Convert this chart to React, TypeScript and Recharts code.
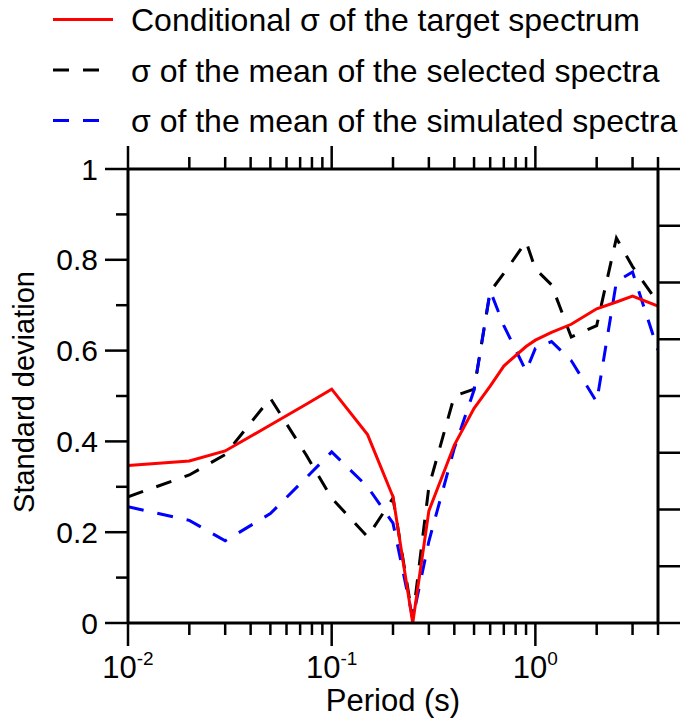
import React from 'react';
import { LineChart, Line, XAxis, YAxis, Legend } from 'recharts';

const PERIODS = [0.01, 0.02, 0.03, 0.05, 0.075, 0.1, 0.15, 0.2, 0.25, 0.3, 0.4, 0.5, 0.6, 0.7, 0.9, 1, 1.2, 1.5, 2, 2.5, 3, 4];
const CONDITIONAL_SIGMA = [0.347, 0.357, 0.379, 0.436, 0.482, 0.515, 0.415, 0.278, 0.0, 0.247, 0.392, 0.473, 0.522, 0.566, 0.609, 0.623, 0.64, 0.658, 0.692, 0.707, 0.72, 0.698];
const SELECTED_SIGMA = [0.278, 0.326, 0.371, 0.495, 0.37, 0.275, 0.19, 0.275, 0.01, 0.3, 0.5, 0.515, 0.73, 0.77, 0.84, 0.78, 0.745, 0.63, 0.655, 0.848, 0.785, 0.705];
const SIMULATED_SIGMA = [0.256, 0.226, 0.181, 0.241, 0.32, 0.377, 0.3, 0.22, 0.01, 0.18, 0.385, 0.513, 0.732, 0.655, 0.555, 0.605, 0.62, 0.578, 0.487, 0.752, 0.773, 0.601];

const X_TICKS = [0.01, 0.02, 0.03, 0.04, 0.05, 0.06, 0.07, 0.08, 0.09, 0.1, 0.2, 0.3, 0.4, 0.5, 0.6, 0.7, 0.8, 0.9, 1, 2, 3, 4];
const X_MAJOR = [0.01, 0.1, 1];
const X_MAJOR_EXP = ['-2', '-1', '0'];
const Y_TICKS = [0, 0.1, 0.2, 0.3, 0.4, 0.5, 0.6, 0.7, 0.8, 0.9, 1];
const Y_MAJOR = [0, 0.2, 0.4, 0.6, 0.8, 1];
const Y_MAJOR_LABELS = ['0', '0.2', '0.4', '0.6', '0.8', '1'];
const RIGHT_TICKS = [0, 0.125, 0.25, 0.375, 0.5, 0.625, 0.75, 0.875, 1];

const SERIES = [
  { key: 'conditional', name: 'Conditional \u03c3 of the target spectrum', color: '#ff0000', dash: undefined },
  { key: 'selected', name: '\u03c3 of the mean of the selected spectra', color: '#000000', dash: '16 14' },
  { key: 'simulated', name: '\u03c3 of the mean of the simulated spectra', color: '#0000ff', dash: '16 14' },
];

const data = PERIODS.map((p, i) => ({
  period: p,
  conditional: CONDITIONAL_SIGMA[i],
  selected: SELECTED_SIGMA[i],
  simulated: SIMULATED_SIGMA[i],
}));

const FONT = '"Liberation Sans", Arial, sans-serif';
const TICK_W = 2.5;
const MAJOR_LEN = 23;
const MINOR_LEN = 12;

const BottomTick = (props: any) => {
  const { x, y, payload } = props;
  const idx = X_MAJOR.indexOf(payload.value);
  const major = idx >= 0;
  return (
    <g>
      <line x1={x} x2={x} y1={y} y2={y + (major ? MAJOR_LEN : MINOR_LEN)} stroke="#000" strokeWidth={TICK_W} />
      {major && (
        <text x={x} y={y + 55} textAnchor="middle" fontSize={31} fontFamily={FONT} fill="#000">
          10
          <tspan dy={-13} fontSize={19}>{X_MAJOR_EXP[idx]}</tspan>
        </text>
      )}
    </g>
  );
};

const TopTick = (props: any) => {
  const { x, y, payload } = props;
  const major = X_MAJOR.indexOf(payload.value) >= 0;
  return <line x1={x} x2={x} y1={y} y2={y - (major ? MAJOR_LEN : MINOR_LEN)} stroke="#000" strokeWidth={TICK_W} />;
};

const LeftTick = (props: any) => {
  const { x, y, payload } = props;
  const idx = Y_MAJOR.indexOf(payload.value);
  const major = idx >= 0;
  return (
    <g>
      <line x1={x} x2={x - (major ? MAJOR_LEN : MINOR_LEN)} y1={y} y2={y} stroke="#000" strokeWidth={TICK_W} />
      {major && (
        <text x={x - 30} y={y} dy={10.5} textAnchor="end" fontSize={30} fontFamily={FONT} fill="#000">
          {Y_MAJOR_LABELS[idx]}
        </text>
      )}
    </g>
  );
};

const RightTick = (props: any) => {
  const { x, y } = props;
  return <line x1={x} x2={x + MAJOR_LEN} y1={y} y2={y} stroke="#000" strokeWidth={TICK_W} />;
};

const YLabel = () => (
  <text
    x={34}
    y={392}
    transform="rotate(-90, 34, 392)"
    textAnchor="middle"
    fontSize={29}
    fontFamily={FONT}
    fill="#000"
  >
    Standard deviation
  </text>
);

const XLabel = () => (
  <text x={393} y={711} textAnchor="middle" fontSize={31} fontFamily={FONT} fill="#000">
    Period (s)
  </text>
);

const LegendContent = () => (
  <svg width={680} height={150} style={{ display: 'block' }}>
    {SERIES.map((s, i) => {
      const cy = 19.5 + i * 50.5;
      return (
        <g key={s.key}>
          <line x1={53} x2={113} y1={cy} y2={cy} stroke={s.color} strokeWidth={3} strokeDasharray={s.dash} />
          <text x={131} y={cy + 11.5} fontSize={32} fontFamily={FONT} fill="#000">
            {s.name}
          </text>
        </g>
      );
    })}
  </svg>
);

const axisLine = { stroke: '#000', strokeWidth: 3 };

export default function App() {
  const drawOrder = [SERIES[1], SERIES[2], SERIES[0]];
  return (
    <div style={{ position: 'absolute', left: 0, top: 0, width: 680, height: 723, background: '#fff' }}>
      <LineChart width={680} height={723} data={data} margin={{ top: 168, right: 21, bottom: 0, left: 0 }}>
        <XAxis
          dataKey="period"
          type="number"
          scale="log"
          domain={[0.01, 4]}
          allowDataOverflow
          ticks={X_TICKS}
          interval={0}
          tickSize={0}
          tickMargin={0}
          tick={<BottomTick />}
          tickLine={false}
          axisLine={axisLine}
          height={100}
          label={XLabel}
        />
        <XAxis
          xAxisId="top"
          orientation="top"
          dataKey="period"
          type="number"
          scale="log"
          domain={[0.01, 4]}
          allowDataOverflow
          ticks={X_TICKS}
          interval={0}
          tickSize={0}
          tickMargin={0}
          tick={<TopTick />}
          tickLine={false}
          axisLine={axisLine}
          height={1}
        />
        <YAxis
          type="number"
          domain={[0, 1]}
          allowDataOverflow
          ticks={Y_TICKS}
          interval={0}
          tickSize={0}
          tickMargin={0}
          tick={<LeftTick />}
          tickLine={false}
          axisLine={axisLine}
          width={128}
          label={YLabel}
        />
        <YAxis
          yAxisId="right"
          orientation="right"
          type="number"
          domain={[0, 1]}
          allowDataOverflow
          ticks={RIGHT_TICKS}
          interval={0}
          tickSize={0}
          tickMargin={0}
          tick={<RightTick />}
          tickLine={false}
          axisLine={axisLine}
          width={1}
        />
        <Legend
          layout="horizontal"
          verticalAlign="middle"
          align="center"
          content={<LegendContent />}
          wrapperStyle={{ top: 0, left: 0, width: 680, height: 150 }}
        />
        {drawOrder.map((s) => (
          <Line
            key={s.key}
            dataKey={s.key}
            name={s.name}
            type="linear"
            stroke={s.color}
            strokeWidth={3}
            strokeDasharray={s.dash}
            dot={false}
            activeDot={false}
            isAnimationActive={false}
          />
        ))}
      </LineChart>
    </div>
  );
}
